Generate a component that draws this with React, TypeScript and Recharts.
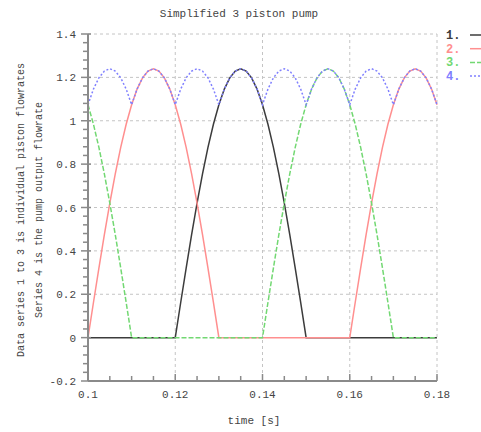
import React from 'react';
import { LineChart, Line, XAxis, YAxis, CartesianGrid, Customized } from 'recharts';

const time = [
  0.1, 0.10125, 0.1025, 0.10375, 0.105, 0.10625, 0.1075, 0.10875,
  0.11, 0.11125, 0.1125, 0.11375, 0.115, 0.11625, 0.1175, 0.11875,
  0.12, 0.12125, 0.1225, 0.12375, 0.125, 0.12625, 0.1275, 0.12875,
  0.13, 0.13125, 0.1325, 0.13375, 0.135, 0.13625, 0.1375, 0.13875,
  0.14, 0.14125, 0.1425, 0.14375, 0.145, 0.14625, 0.1475, 0.14875,
  0.15, 0.15125, 0.1525, 0.15375, 0.155, 0.15625, 0.1575, 0.15875,
  0.16, 0.16125, 0.1625, 0.16375, 0.165, 0.16625, 0.1675, 0.16875,
  0.17, 0.17125, 0.1725, 0.17375, 0.175, 0.17625, 0.1775, 0.17875,
  0.18,
];

const series1 = [
  0, 0, 0, 0, 0, 0, 0, 0,
  0, 0, 0, 0, 0, 0, 0, 0,
  0, 0.162, 0.321, 0.475, 0.62, 0.755, 0.877, 0.984,
  1.074, 1.146, 1.198, 1.229, 1.24, 1.229, 1.198, 1.146,
  1.074, 0.984, 0.877, 0.755, 0.62, 0.475, 0.321, 0.162,
  0, 0, 0, 0, 0, 0, 0, 0,
  0, 0, 0, 0, 0, 0, 0, 0,
  0, 0, 0, 0, 0, 0, 0, 0,
  0,
];

const series2 = [
  0, 0.162, 0.321, 0.475, 0.62, 0.755, 0.877, 0.984,
  1.074, 1.146, 1.198, 1.229, 1.24, 1.229, 1.198, 1.146,
  1.074, 0.984, 0.877, 0.755, 0.62, 0.475, 0.321, 0.162,
  0, 0, 0, 0, 0, 0, 0, 0,
  0, 0, 0, 0, 0, 0, 0, 0,
  0, 0, 0, 0, 0, 0, 0, 0,
  0, 0.162, 0.321, 0.475, 0.62, 0.755, 0.877, 0.984,
  1.074, 1.146, 1.198, 1.229, 1.24, 1.229, 1.198, 1.146,
  1.074,
];

const series3 = [
  1.074, 0.984, 0.877, 0.755, 0.62, 0.475, 0.321, 0.162,
  0, 0, 0, 0, 0, 0, 0, 0,
  0, 0, 0, 0, 0, 0, 0, 0,
  0, 0, 0, 0, 0, 0, 0, 0,
  0, 0.162, 0.321, 0.475, 0.62, 0.755, 0.877, 0.984,
  1.074, 1.146, 1.198, 1.229, 1.24, 1.229, 1.198, 1.146,
  1.074, 0.984, 0.877, 0.755, 0.62, 0.475, 0.321, 0.162,
  0, 0, 0, 0, 0, 0, 0, 0,
  0,
];

const series4 = [
  1.074, 1.146, 1.198, 1.229, 1.24, 1.229, 1.198, 1.146,
  1.074, 1.146, 1.198, 1.229, 1.24, 1.229, 1.198, 1.146,
  1.074, 1.146, 1.198, 1.229, 1.24, 1.229, 1.198, 1.146,
  1.074, 1.146, 1.198, 1.229, 1.24, 1.229, 1.198, 1.146,
  1.074, 1.146, 1.198, 1.229, 1.24, 1.229, 1.198, 1.146,
  1.074, 1.146, 1.198, 1.229, 1.24, 1.229, 1.198, 1.146,
  1.074, 1.146, 1.198, 1.229, 1.24, 1.229, 1.198, 1.146,
  1.074, 1.146, 1.198, 1.229, 1.24, 1.229, 1.198, 1.146,
  1.074,
];

const xMajor = [0.1, 0.12, 0.14, 0.16, 0.18];
const xMinor = [0.1, 0.105, 0.11, 0.115, 0.12, 0.125, 0.13, 0.135, 0.14, 0.145, 0.15, 0.155, 0.16, 0.165, 0.17, 0.175, 0.18];
const yMajor = [-0.2, 0, 0.2, 0.4, 0.6, 0.8, 1, 1.2, 1.4];
const yMinor = [
  -0.2, -0.16, -0.12, -0.08, -0.04, 0, 0.04, 0.08, 0.12, 0.16, 0.2, 0.24, 0.28, 0.32, 0.36,
  0.4, 0.44, 0.48, 0.52, 0.56, 0.6, 0.64, 0.68, 0.72, 0.76, 0.8, 0.84, 0.88, 0.92, 0.96,
  1, 1.04, 1.08, 1.12, 1.16, 1.2, 1.24, 1.28, 1.32, 1.36, 1.4,
];

const seriesNames = ['1.', '2.', '3.', '4.'];
const seriesColors = ['#3c3c3c', '#ff8f8f', '#72d872', '#8080ff'];
const seriesDash = ['', '', '5 2', '2 2'];

const titleText = 'Simplified 3 piston pump';
const yLabel1 = 'Data series 1 to 3 is individual piston flowrates';
const yLabel2 = 'Series 4 is the pump output flowrate';
const xLabel = 'time [s]';

const data = time.map((t, i) => ({
  t,
  s1: series1[i],
  s2: series2[i],
  s3: series3[i],
  s4: series4[i],
}));

const FONT = '"Liberation Mono", "DejaVu Sans Mono", monospace';
const TXT = '#444';
const AXIS = '#8a8a8a';

const isMajor = (v: number, majors: number[]) => majors.some((m) => Math.abs(m - v) < 1e-9);

const XTick = (props: any) => {
  const { x, y, payload } = props;
  const v = payload.value;
  const major = isMajor(v, xMajor);
  return (
    <g>
      <line x1={x} y1={y} x2={x} y2={y - (major ? 7 : 5)} stroke={AXIS} strokeWidth={1.5} />
      {major && (
        <text x={x} y={y + 17} textAnchor="middle" fontFamily={FONT} fontSize={11} fill={TXT}>
          {String(v)}
        </text>
      )}
    </g>
  );
};

const YTick = (props: any) => {
  const { x, y, payload } = props;
  const v = payload.value;
  const major = isMajor(v, yMajor);
  return (
    <g>
      <line x1={x - (major ? 7 : 5)} y1={y} x2={x + (major ? 3 : 0)} y2={y} stroke={AXIS} strokeWidth={1.5} />
      {major && (
        <text x={x - 12} y={y + 4} textAnchor="end" fontFamily={FONT} fontSize={11} fill={TXT}>
          {String(Math.round(v * 10) / 10)}
        </text>
      )}
    </g>
  );
};

const Texts = () => (
  <g>
    <text x={239} y={17} textAnchor="middle" fontFamily={FONT} fontSize={11} fill={TXT}>
      {titleText}
    </text>
    <text x={254} y={424} textAnchor="middle" fontFamily={FONT} fontSize={11} fill={TXT}>
      {xLabel}
    </text>
    <text
      x={24}
      y={210}
      textAnchor="middle"
      fontFamily={FONT}
      fontSize={10}
      fill={TXT}
      transform="rotate(-90 24 210)"
    >
      {yLabel1}
    </text>
    <text
      x={42}
      y={210}
      textAnchor="middle"
      fontFamily={FONT}
      fontSize={10}
      fill={TXT}
      transform="rotate(-90 42 210)"
    >
      {yLabel2}
    </text>
    {seriesNames.map((n, i) => (
      <g key={n}>
        <text x={446} y={39 + i * 13.7} fontFamily={FONT} fontSize={12} fontWeight="bold" fill={seriesColors[i]}>
          {n}
        </text>
        <line
          x1={470}
          y1={35 + i * 13.7}
          x2={481}
          y2={35 + i * 13.7}
          stroke={seriesColors[i]}
          strokeWidth={1.5}
          strokeDasharray={seriesDash[i] || undefined}
        />
      </g>
    ))}
  </g>
);

export default function App() {
  return (
    <div style={{ position: 'absolute', left: 0, top: 0, width: 481, height: 432, background: '#fff' }}>
      <LineChart width={481} height={432} data={data} margin={{ top: 34, right: 44, bottom: 0, left: 0 }}>
        <CartesianGrid
          stroke="#c4c4c4"
          strokeDasharray="3 3"
          horizontalValues={[0.2, 0.4, 0.6, 0.8, 1, 1.2, 1.4]}
          verticalValues={[0.12, 0.14, 0.16, 0.18]}
        />
        <XAxis
          dataKey="t"
          type="number"
          domain={[0.1, 0.18]}
          ticks={xMinor}
          interval={0}
          height={51}
          tickSize={0}
          tickMargin={0}
          tickLine={false}
          tick={<XTick />}
          stroke={AXIS}
          axisLine={{ stroke: AXIS, strokeWidth: 2 }}
        />
        <YAxis
          type="number"
          domain={[-0.2, 1.4]}
          ticks={yMinor}
          interval={0}
          width={88}
          tickSize={0}
          tickMargin={0}
          tickLine={false}
          tick={<YTick />}
          axisLine={{ stroke: AXIS, strokeWidth: 2 }}
        />
        <Line dataKey="s1" stroke={seriesColors[0]} strokeWidth={1.5} dot={false} isAnimationActive={false} />
        <Line dataKey="s2" stroke={seriesColors[1]} strokeWidth={1.5} dot={false} isAnimationActive={false} />
        <Line
          dataKey="s3"
          stroke={seriesColors[2]}
          strokeWidth={1.5}
          strokeDasharray={seriesDash[2]}
          dot={false}
          isAnimationActive={false}
        />
        <Line
          dataKey="s4"
          stroke={seriesColors[3]}
          strokeWidth={1.5}
          strokeDasharray={seriesDash[3]}
          dot={false}
          isAnimationActive={false}
        />
        <Customized component={Texts} />
      </LineChart>
    </div>
  );
}
